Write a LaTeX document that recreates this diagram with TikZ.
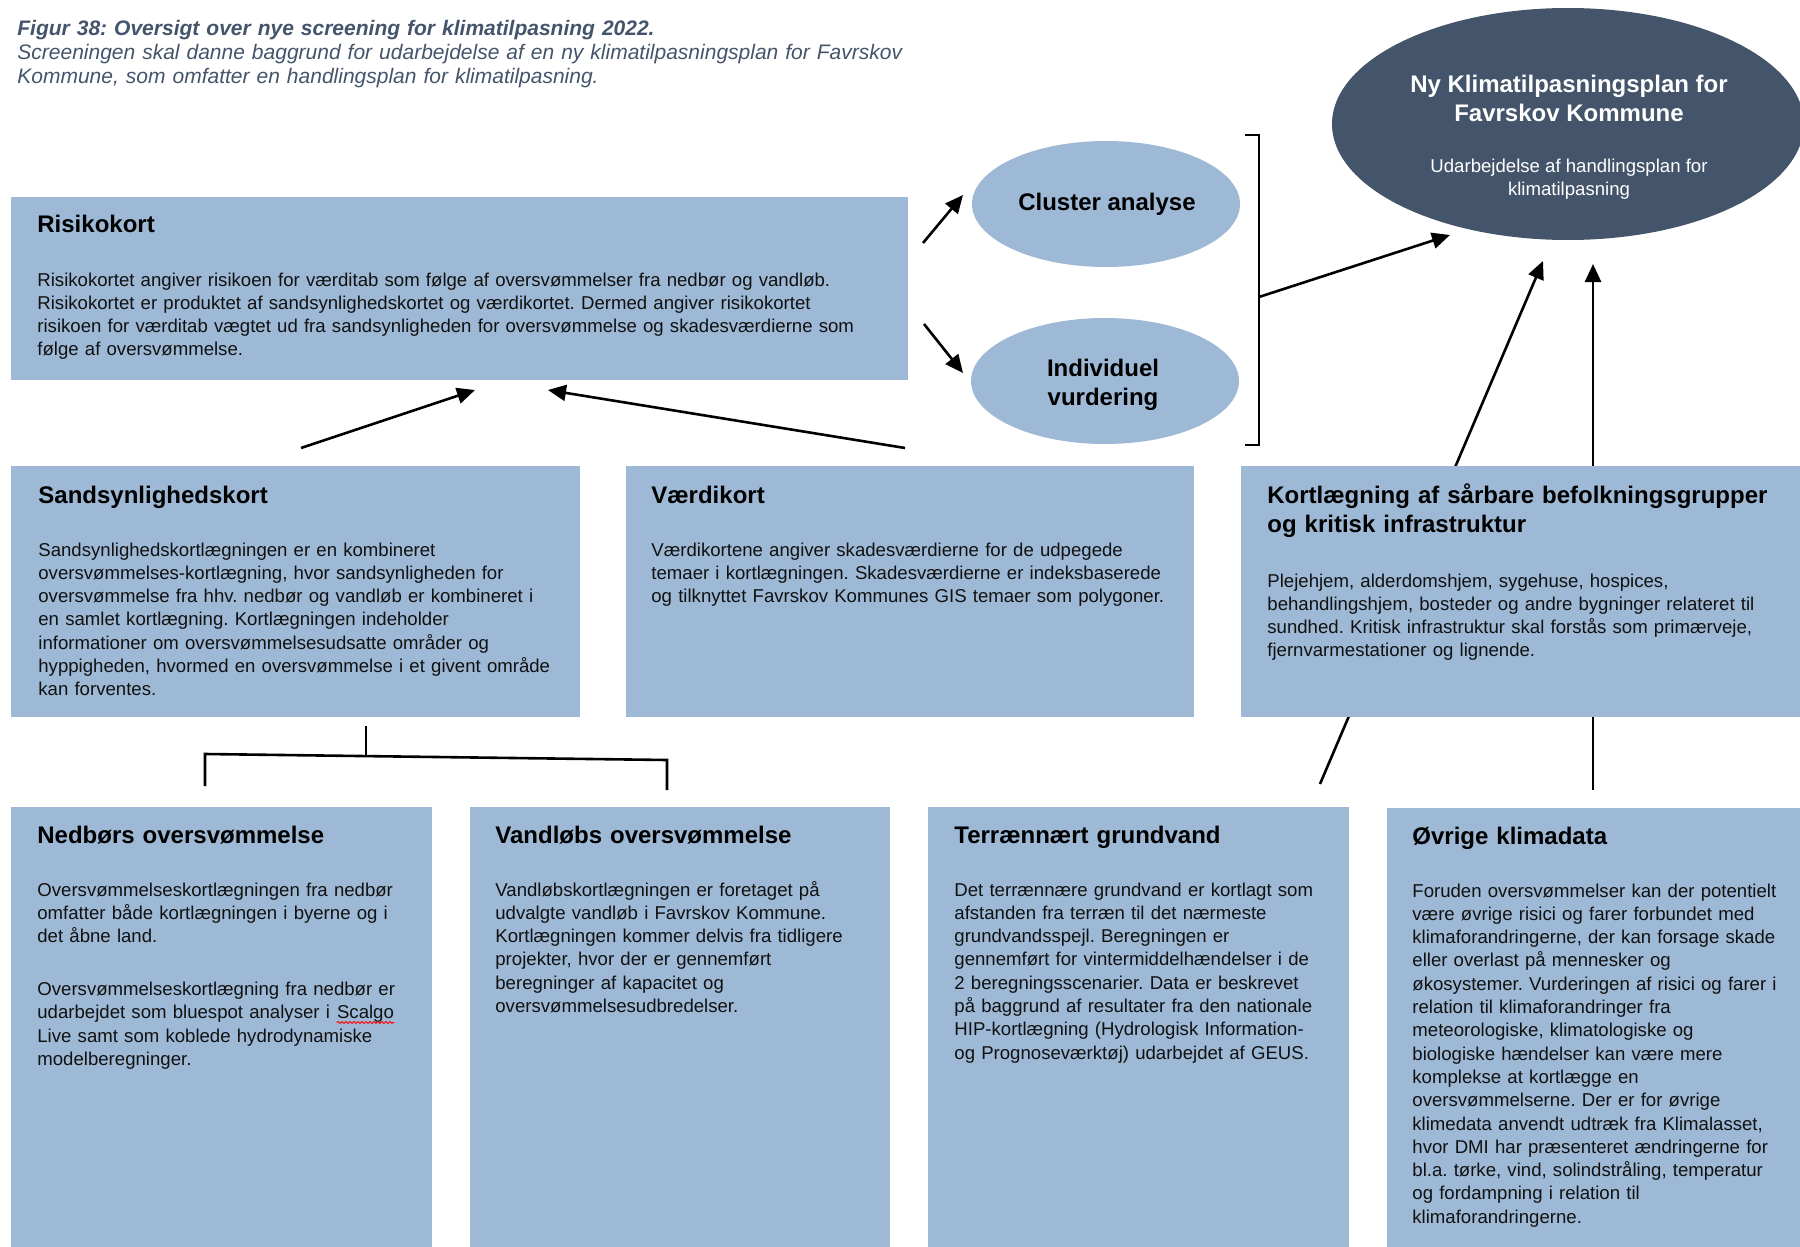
\documentclass[tikz,border=0pt]{standalone}
\usepackage{fontspec}
\setmainfont{Liberation Sans}
\usetikzlibrary{arrows.meta,shapes.geometric,decorations.pathmorphing,calc}
\definecolor{boxblue}{HTML}{9DB9D6}
\definecolor{navy}{HTML}{44546A}
\definecolor{txt}{HTML}{111111}
\frenchspacing
\newcommand\squig[1]{\tikz[baseline=(sq.base)]{\node[inner sep=0pt,anchor=base] (sq) {#1};\draw[red,line width=0.45pt,decorate,decoration={snake,amplitude=0.5pt,segment length=2pt}] ([yshift=-1.8pt]sq.base west) -- ([yshift=-1.8pt]sq.base east);}}
\begin{document}
\begin{tikzpicture}[x=0.5pt,y=-0.5pt,
  panel/.style={fill=boxblue, draw=none, anchor=north west, inner sep=0pt, outer sep=0pt},
  ptitle/.style={anchor=base west, inner sep=0pt, font=\fontsize{12}{14.9}\selectfont\bfseries, align=left, text width=300pt, text=black},
  pbody/.style={anchor=base west, inner sep=0pt, font=\fontsize{9.3}{11.65}\selectfont\frenchspacing, align=left, text width=450pt, text=txt},
  oval/.style={ellipse, fill=boxblue, minimum width=134pt, minimum height=63pt, inner sep=0pt},
  conn/.style={line width=1.3pt, -{Triangle[length=9pt,width=8pt]}},
  plain/.style={line width=1.3pt},
]
\useasboundingbox (0,0) rectangle (1800,1247);

% caption
\node[anchor=base west, inner sep=0pt, align=left, text width=480pt, text=navy, font=\fontsize{10.5}{12}\selectfont\itshape\frenchspacing] (cap) at (17,36)
{\textbf{Figur 38: Oversigt over nye screening for klimatilpasning 2022.}\\
Screeningen skal danne baggrund for udarbejdelse af en ny klimatilpasningsplan for Favrskov\\
Kommune, som omfatter en handlingsplan for klimatilpasning.};

% main goal ellipse
\node[ellipse, fill=navy, minimum width=236pt, minimum height=116pt, inner sep=0pt] (plan) at (1568,124) {};
\node[align=center, inner sep=0pt, text=white, font=\fontsize{12}{14.5}\selectfont\bfseries] (plant) at (1569,98.5)
{Ny Klimatilpasningsplan for\\Favrskov Kommune};
\node[align=center, inner sep=0pt, text=white, font=\fontsize{9.3}{11.5}\selectfont] (plans) at (1569,179.5)
{Udarbejdelse af handlingsplan for\\klimatilpasning};

% connectors that pass behind the Kortlaegning panel
\coordinate (c6a) at (1320,784); \coordinate (c6b) at (1543,261);
\coordinate (c7a) at (1593,790); \coordinate (c7b) at (1593,264);
\draw[conn] (c6a) -- (c6b);
\draw[conn] (c7a) -- (c7b);

% panels
\node[panel, minimum width=448.5pt, minimum height=91.5pt] (risk) at (11,197) {};
\node[panel, minimum width=284.5pt, minimum height=125.5pt] (sand) at (11,466) {};
\node[panel, minimum width=284pt, minimum height=125.5pt] (vaerdi) at (626,466) {};
\node[panel, minimum width=285pt, minimum height=125.5pt] (kort) at (1241,466) {};
\node[panel, minimum width=210.5pt, minimum height=227pt] (ned) at (11,807) {};
\node[panel, minimum width=210pt, minimum height=227pt] (vand) at (470,807) {};
\node[panel, minimum width=210.5pt, minimum height=227pt] (terr) at (928,807) {};
\node[panel, minimum width=215pt, minimum height=227pt] (ovr) at (1387,808) {};

% ovals
\node[oval] (clu) at (1106,204) {};
\node[font=\fontsize{12}{14.5}\selectfont\bfseries, inner sep=0pt] (clut) at (1107,204) {Cluster analyse};
\node[oval] (ind) at (1105,381) {};
\node[font=\fontsize{12}{14.5}\selectfont\bfseries, align=center, inner sep=0pt] (indt) at (1103,384.5) {Individuel\\vurdering};

% panel texts
\node[ptitle] (riskT) at ($(risk.north west)+(26,35)$) {Risikokort};
\node[pbody] (riskB) at ($(risk.north west)+(26,89)$)
{Risikokortet angiver risikoen for værditab som følge af oversvømmelser fra nedbør og vandløb.\\
Risikokortet er produktet af sandsynlighedskortet og værdikortet. Dermed angiver risikokortet\\
risikoen for værditab vægtet ud fra sandsynligheden for oversvømmelse og skadesværdierne som\\
følge af oversvømmelse.};

\node[ptitle] (sandT) at ($(sand.north west)+(27,37)$) {Sandsynlighedskort};
\node[pbody] (sandB) at ($(sand.north west)+(27,90)$)
{Sandsynlighedskortlægningen er en kombineret\\
oversvømmelses-kortlægning, hvor sandsynligheden for\\
oversvømmelse fra hhv. nedbør og vandløb er kombineret i\\
en samlet kortlægning. Kortlægningen indeholder\\
informationer om oversvømmelsesudsatte områder og\\
hyppigheden, hvormed en oversvømmelse i et givent område\\
kan forventes.};

\node[ptitle] (vaerdiT) at ($(vaerdi.north west)+(25,37)$) {Værdikort};
\node[pbody] (vaerdiB) at ($(vaerdi.north west)+(25,90)$)
{Værdikortene angiver skadesværdierne for de udpegede\\
temaer i kortlægningen. Skadesværdierne er indeksbaserede\\
og tilknyttet Favrskov Kommunes GIS temaer som polygoner.};

\node[ptitle, text width=320pt] (kortT) at ($(kort.north west)+(26,37)$)
{Kortlægning af sårbare befolkningsgrupper\\og kritisk infrastruktur};
\node[pbody] (kortB) at ($(kort.north west)+(26,121)$)
{Plejehjem, alderdomshjem, sygehuse, hospices,\\
behandlingshjem, bosteder og andre bygninger relateret til\\
sundhed. Kritisk infrastruktur skal forstås som primærveje,\\
fjernvarmestationer og lignende.};

\node[ptitle] (nedT) at ($(ned.north west)+(26,36)$) {Nedbørs oversvømmelse};
\node[pbody] (nedB) at ($(ned.north west)+(26,89)$)
{Oversvømmelseskortlægningen fra nedbør\\
omfatter både kortlægningen i byerne og i\\
det åbne land.\\[14.85pt]
Oversvømmelseskortlægning fra nedbør er\\
udarbejdet som bluespot analyser i \squig{Scalgo}\\
Live samt som koblede hydrodynamiske\\
modelberegninger.};

\node[ptitle] (vandT) at ($(vand.north west)+(25,36)$) {Vandløbs oversvømmelse};
\node[pbody] (vandB) at ($(vand.north west)+(25,89)$)
{Vandløbskortlægningen er foretaget på\\
udvalgte vandløb i Favrskov Kommune.\\
Kortlægningen kommer delvis fra tidligere\\
projekter, hvor der er gennemført\\
beregninger af kapacitet og\\
oversvømmelsesudbredelser.};

\node[ptitle] (terrT) at ($(terr.north west)+(26,36)$) {Terrænnært grundvand};
\node[pbody] (terrB) at ($(terr.north west)+(26,89)$)
{Det terrænnære grundvand er kortlagt som\\
afstanden fra terræn til det nærmeste\\
grundvandsspejl. Beregningen er\\
gennemført for vintermiddelhændelser i de\\
2 beregningsscenarier. Data er beskrevet\\
på baggrund af resultater fra den nationale\\
HIP-kortlægning (Hydrologisk Information-\\
og Prognoseværktøj) udarbejdet af GEUS.};

\node[ptitle] (ovrT) at ($(ovr.north west)+(25,36)$) {Øvrige klimadata};
\node[pbody] (ovrB) at ($(ovr.north west)+(25,89)$)
{Foruden oversvømmelser kan der potentielt\\
være øvrige risici og farer forbundet med\\
klimaforandringerne, der kan forsage skade\\
eller overlast på mennesker og\\
økosystemer. Vurderingen af risici og farer i\\
relation til klimaforandringer fra\\
meteorologiske, klimatologiske og\\
biologiske hændelser kan være mere\\
komplekse at kortlægge en\\
oversvømmelserne. Der er for øvrige\\
klimedata anvendt udtræk fra Klimalasset,\\
hvor DMI har præsenteret ændringerne for\\
bl.a. tørke, vind, solindstråling, temperatur\\
og fordampning i relation til\\
klimaforandringerne.};

% arrows
\coordinate (c1a) at (923,243); \coordinate (c1b) at (963,195);
\coordinate (c2a) at (924,324); \coordinate (c2b) at (963,373);
\coordinate (c3a) at (301,448); \coordinate (c3b) at (475,390);
\coordinate (c4a) at (905,448); \coordinate (c4b) at (548,390);
\draw[conn] (c1a) -- (c1b);
\draw[conn] (c2a) -- (c2b);
\draw[conn] (c3a) -- (c3b);
\draw[conn] (c4a) -- (c4b);

% bracket
\coordinate (bt1) at (1245,135); \coordinate (bt2) at (1259,135);
\coordinate (bb2) at (1259,445); \coordinate (bb1) at (1245,445);
\coordinate (bm) at (1259,297); \coordinate (c5b) at (1450,235);
\draw[plain, line width=1.1pt] (bt1) -- (bt2) -- (bb2) -- (bb1);
\draw[conn] (bm) -- (c5b);

% tree below Sandsynlighedskort
\coordinate (t0) at (366,726); \coordinate (tj) at (366,756);
\coordinate (tl0) at (205,786); \coordinate (tl) at (205,754);
\coordinate (tr) at (667,760); \coordinate (tr0) at (667,790);
\draw[plain] (t0) -- (tj);
\draw[plain] (tl0) -- (tl) -- (tr) -- (tr0);
\end{tikzpicture}
\end{document}
